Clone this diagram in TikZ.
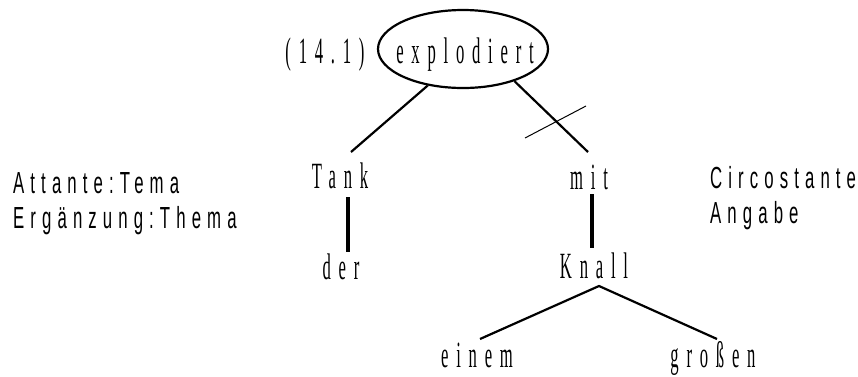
\documentclass[tikz,border=0pt]{standalone}
\usepackage{fontspec}
\usetikzlibrary{shapes.geometric}
\newfontfamily\treefont[FakeStretch=0.45,LetterSpace=21]{Liberation Serif}
\newfontfamily\labfont[FakeStretch=0.55,LetterSpace=20]{Liberation Sans}
\begin{document}
\begin{tikzpicture}[x=1pt,y=-1pt,
  word/.style={font=\treefont\fontsize{37}{40}\selectfont, inner sep=0pt, anchor=base},
  lab/.style={font=\labfont\fontsize{30.5}{34}\selectfont, inner sep=0pt, anchor=base west},
  edge/.style={line width=2.2pt},
  vedge/.style={line width=3.2pt},
  cross/.style={line width=1pt}]
\useasboundingbox (0,0) rectangle (858,376);
% root
\node[draw, ellipse, line width=2.2pt, minimum width=170, minimum height=78, inner sep=0pt] (root) at (463,49) {};
\node[word] (explodiert) at (465,63) {explodiert};
\node[word] (num) at (325,63) {(14.1)};
% words
\node[word] (Tank) at (340,188) {Tank};
\node[word] (mit) at (589,189) {mit};
\node[word] (der) at (341,279) {der};
\node[word] (Knall) at (594,278) {Knall};
\node[word] (einem) at (477,367) {einem};
\node[word] (grossen) at (713,367) {großen};
% labels
\node[lab] (att) at (13,193) {Attante:Tema};
\node[lab] (erg) at (13,228) {Ergänzung:Thema};
\node[lab] (circ) at (710,188) {Circostante};
\node[lab] (ang) at (710,223) {Angabe};
% connector ends
\coordinate (Tank-up) at (351,152);
\coordinate (mit-up) at (588,152);
\coordinate (Tank-down) at (348,197);
\coordinate (der-up) at (348,252);
\coordinate (mit-down) at (592,194);
\coordinate (Knall-up) at (592,248);
\coordinate (Knall-down) at (599,286);
\coordinate (einem-up) at (480,339);
\coordinate (grossen-up) at (717,339);
\coordinate (cut-a) at (525,138);
\coordinate (cut-b) at (586,106);
% connectors
\draw[edge] (root.226.6) -- (Tank-up);
\draw[edge] (root.-32.4) -- (mit-up);
\draw[cross] (cut-a) -- (cut-b);
\draw[vedge] (Tank-down) -- (der-up);
\draw[vedge] (mit-down) -- (Knall-up);
\draw[edge] (einem-up) -- (Knall-down) -- (grossen-up);
\end{tikzpicture}
\end{document}
